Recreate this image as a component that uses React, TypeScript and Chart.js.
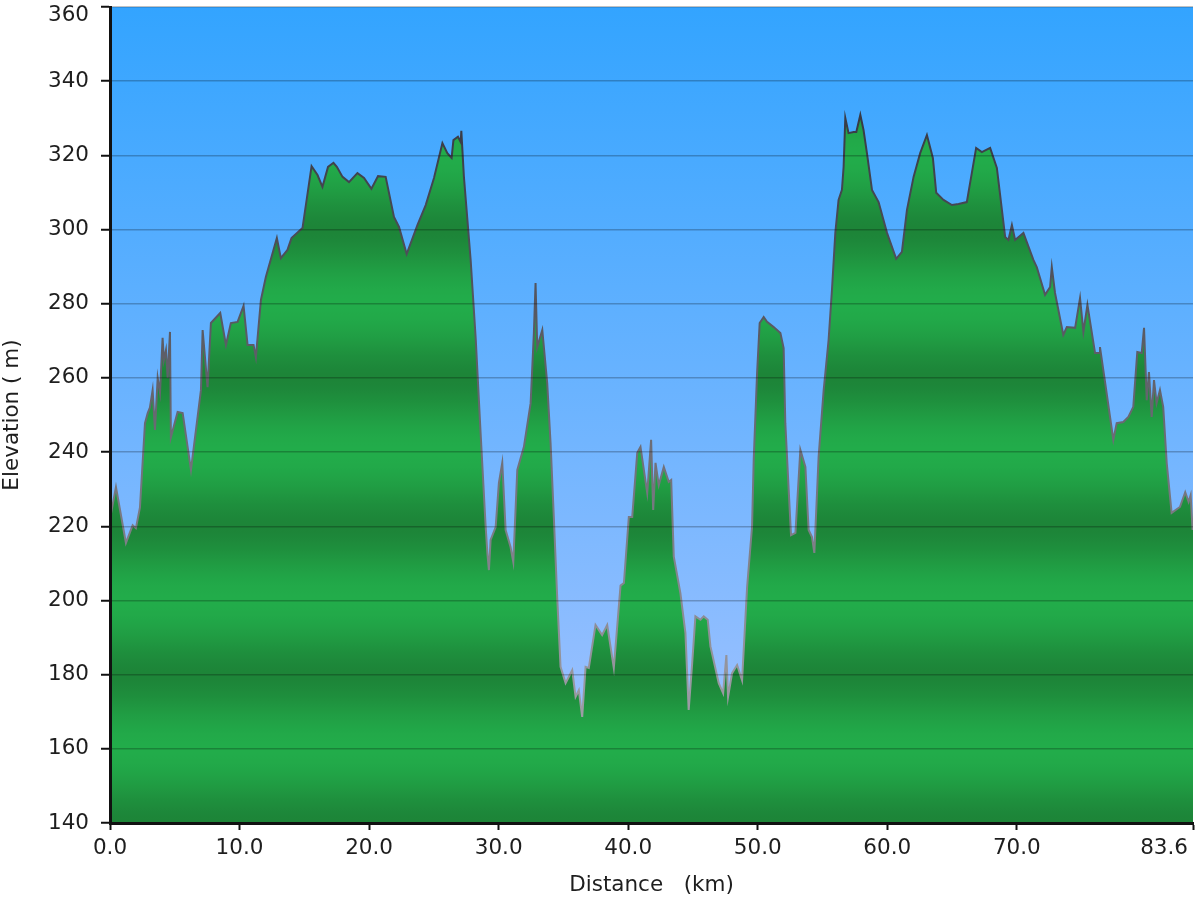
import React, { useEffect, useRef } from "react";
import { Chart, registerables } from "chart.js";

Chart.register(...registerables);

// Distance along the route (km)
const distanceKm = [
  0, 0.46, 1.23, 1.75, 2.0, 2.31, 2.7, 2.91, 3.08, 3.29,
  3.47, 3.68, 3.86, 4.06, 4.16, 4.32, 4.45, 4.63, 4.7, 5.22,
  5.61, 6.25, 7.02, 7.15, 7.53, 7.79, 8.51, 8.95, 9.33, 9.85,
  10.31, 10.62, 11.08, 11.26, 11.65, 12.03, 12.88, 13.19, 13.7, 14.01,
  14.86, 15.56, 16.02, 16.4, 16.83, 17.25, 17.51, 17.95, 18.45, 19.1,
  19.61, 20.18, 20.69, 21.28, 21.92, 22.31, 22.9, 23.73, 24.37, 25.01,
  25.66, 26.04, 26.37, 26.51, 26.86, 27.07, 27.12, 27.32, 27.84, 28.23,
  28.61, 29.0, 29.13, 29.25, 29.38, 29.77, 30.02, 30.28, 30.54, 30.92,
  31.13, 31.44, 31.95, 32.47, 32.72, 32.85, 32.98, 33.37, 33.75, 34.01,
  34.26, 34.53, 34.78, 35.17, 35.68, 35.94, 36.19, 36.45, 36.71, 36.96,
  37.48, 37.99, 38.38, 38.89, 39.41, 39.67, 40.05, 40.31, 40.7, 40.95,
  41.47, 41.77, 41.93, 42.11, 42.36, 42.75, 43.13, 43.32, 43.52, 44.03,
  44.42, 44.67, 44.94, 45.19, 45.58, 45.83, 46.14, 46.35, 46.99, 47.33,
  47.58, 47.71, 48.02, 48.41, 48.79, 49.18, 49.56, 49.69, 49.95, 50.15,
  50.46, 50.72, 51.23, 51.75, 52.0, 52.13, 52.39, 52.57, 52.91, 53.29,
  53.68, 53.93, 54.19, 54.37, 54.7, 55.09, 55.47, 55.73, 55.99, 56.24,
  56.5, 56.63, 56.76, 57.01, 57.4, 57.61, 57.92, 58.17, 58.43, 58.82,
  59.33, 59.98, 60.69, 61.13, 61.52, 62.03, 62.54, 63.06, 63.52, 63.78,
  64.34, 64.99, 65.5, 66.14, 66.86, 67.3, 67.94, 68.46, 69.1, 69.35,
  69.62, 69.87, 70.51, 71.28, 71.54, 72.18, 72.57, 72.7, 72.95, 73.59,
  73.86, 74.5, 74.88, 75.14, 75.45, 76.04, 76.37, 76.42, 76.81, 77.45,
  77.71, 78.22, 78.61, 78.99, 79.3, 79.64, 79.82, 80.03, 80.2, 80.41,
  80.59, 80.79, 81.05, 81.3, 81.57, 81.95, 82.59, 83.0, 83.26, 83.42,
  83.57, 83.6,
];

// Elevation (m)
const elevationM = [
  222, 230.6, 215.5, 220.3, 219.5, 225, 247.8, 250.5, 252, 256.7,
  246, 260, 256, 270.8, 264.8, 267.5, 260, 272.4, 244, 250.8,
  250.5, 235.2, 256.7, 272.9, 257.5, 274.8, 277.5, 268.9, 274.8, 275.1,
  279.4, 268.9, 268.9, 265.6, 281, 287.2, 297.7, 292.3, 294.5, 297.7,
  300.4, 317.1, 314.7, 311.5, 316.9, 318, 316.9, 314.2, 312.8, 315.2,
  313.9, 311, 314.4, 314.2, 303.4, 300.7, 293.4, 301.2, 306.6, 313.9,
  323.3, 320.6, 319.3, 324.1, 325, 323.6, 326.6, 314.2, 291.8, 270.6,
  245, 219.8, 212.8, 208.2, 216.3, 219.8, 231.7, 237.1, 219, 214.4,
  210.4, 235.2, 241.4, 253.2, 272.1, 285.6, 268.3, 272.9, 258.6, 242.4,
  222.5, 200.1, 182.1, 177.7, 181.2, 174, 175.8, 168.6, 182.1, 181.8,
  193.4, 190.7, 193.4, 181.8, 204, 204.7, 222.5, 222.5, 239.8, 241.4,
  229, 243.3, 224.4, 237.1, 231.1, 236, 232, 232.5, 211.8, 202,
  191.2, 170.5, 183.1, 195.7, 194.8, 195.7, 194.8, 187.6, 177.7, 175,
  185.3, 174, 180.4, 182.6, 178.5, 203.6, 219.8, 237.9, 261.3, 274.8,
  276.4, 275.1, 273.7, 272.1, 268, 247.8, 229.8, 217.6, 218.2, 240.6,
  236, 219, 217.1, 212.8, 238.7, 256.7, 270.2, 283.7, 299.1, 308,
  310.7, 316.9, 330.1, 326, 326.3, 326.3, 330.9, 326.8, 320.6, 310.7,
  307.4, 299.1, 292.1, 294, 305.3, 314.2, 320.6, 325.5, 319.3, 309.9,
  308, 306.6, 306.9, 307.4, 322, 320.9, 322, 316.6, 298, 297.2,
  301.2, 297.2, 299.1, 291.8, 289.9, 282.4, 284.5, 289.9, 282.9, 271.6,
  273.7, 273.5, 281.5, 272.4, 279.7, 266.7, 266.7, 268.3, 258.9, 243.3,
  247.8, 248.1, 249.5, 252.2, 267, 266.7, 273.5, 254, 261.6, 249.5,
  259.4, 253.2, 256.7, 252.2, 237.1, 223.6, 225.2, 229.2, 226.6, 228.4,
  219, 221,
];

const xTickValues = [0, 10, 20, 30, 40, 50, 60, 70, 83.6];
const yMin = 140;
const yMax = 360;
const yStep = 20;

const FONT = "'DejaVu Sans', Verdana, sans-serif";

const LIGHT = [34, 172, 74];
const DARK = [29, 132, 56];

function fillGradient(chart: any) {
  const { ctx, chartArea, scales } = chart;
  if (!chartArea || !scales.y) return "rgb(34,172,74)";
  const ys = scales.y;
  const span = chartArea.bottom - chartArea.top;
  const g = ctx.createLinearGradient(0, chartArea.top, 0, chartArea.bottom);
  for (let v = yMax; v >= yMin; v -= 1) {
    const phase = ((((v - yMin) % 40) + 40) % 40) / 40;
    let t = (1 - Math.cos(2 * Math.PI * phase)) / 2;
    t = Math.pow(t, 0.8);
    const c = DARK.map((d, i) => Math.round(d + (LIGHT[i] - d) * t));
    const stop = (ys.getPixelForValue(v) - chartArea.top) / span;
    g.addColorStop(Math.min(1, Math.max(0, stop)), `rgb(${c[0]},${c[1]},${c[2]})`);
  }
  return g;
}

function lineGradient(chart: any) {
  const { ctx, chartArea } = chart;
  if (!chartArea) return "#555";
  const g = ctx.createLinearGradient(0, chartArea.top, 0, chartArea.bottom);
  g.addColorStop(0, "#262a36");
  g.addColorStop(0.45, "#60616a");
  g.addColorStop(1, "#b0b0b8");
  return g;
}

export default function App() {
  const ref = useRef<HTMLCanvasElement>(null);

  useEffect(() => {
    document.body.style.margin = "0";
    const canvas = ref.current;
    if (!canvas) return;

    const bgPlugin = {
      id: "skyBg",
      beforeDraw(chart: any) {
        const { ctx, chartArea: a } = chart;
        if (!a) return;
        const g = ctx.createLinearGradient(0, a.top, 0, a.bottom);
        g.addColorStop(0, "#33a4ff");
        g.addColorStop(1, "#a8c4ff");
        ctx.save();
        ctx.fillStyle = g;
        ctx.fillRect(a.left, a.top, a.right - a.left, a.bottom - a.top);
        ctx.restore();
      },
    };

    const labelsPlugin = {
      id: "tickLabels",
      afterDraw(chart: any) {
        const { ctx } = chart;
        const xs = chart.scales.x;
        const ys = chart.scales.y;
        ctx.save();
        ctx.font = `21.5px ${FONT}`;
        ctx.fillStyle = "#1e1e1e";
        ctx.textAlign = "right";
        ctx.textBaseline = "middle";
        ys.ticks.forEach((t: any) => {
          const y = Math.max(ys.getPixelForValue(t.value), 15);
          ctx.fillText(String(t.value), 89, y);
        });
        ctx.textAlign = "center";
        xs.ticks.forEach((t: any) => {
          const label = Number(t.value).toFixed(1);
          const w = ctx.measureText(label).width;
          let x = xs.getPixelForValue(t.value);
          x = Math.min(x, chart.width - 12 - w / 2);
          ctx.fillText(label, x, 848);
        });
        ctx.restore();
      },
    };

    const chart = new Chart(canvas, {
      type: "line",
      data: {
        datasets: [
          {
            data: distanceKm.map((x, i) => ({ x, y: elevationM[i] })),
            borderColor: (c: any) => lineGradient(c.chart),
            backgroundColor: (c: any) => fillGradient(c.chart),
            fill: "start",
            pointRadius: 0,
            borderWidth: 2,
            tension: 0,
          },
        ],
      },
      options: {
        animation: false,
        responsive: false,
        layout: { padding: { top: 7, right: 7, left: 0, bottom: 0 } },
        plugins: {
          legend: { display: false },
          tooltip: { enabled: false },
        },
        scales: {
          x: {
            type: "linear",
            min: 0,
            max: 83.6,
            afterBuildTicks: (s: any) => {
              s.ticks = xTickValues.map((v) => ({ value: v }));
            },
            afterFit: (s: any) => {
              s.height = 77;
            },
            ticks: { display: false },
            grid: {
              drawOnChartArea: false,
              drawTicks: true,
              tickLength: 7,
              tickColor: "#111",
              tickWidth: 2,
              z: 1,
            },
            border: { display: true, color: "#111", width: 3, z: 2 },
            title: {
              display: true,
              text: "Distance   (km)",
              color: "#1e1e1e",
              font: { family: FONT, size: 21.5 },
              padding: { top: 0, bottom: 2 },
            },
          },
          y: {
            type: "linear",
            min: yMin,
            max: yMax,
            afterFit: (s: any) => {
              s.width = 110;
            },
            ticks: { display: false, stepSize: yStep },
            grid: {
              color: "rgba(0,0,0,0.24)",
              lineWidth: 1.5,
              tickColor: "#111",
              tickWidth: 2,
              tickLength: 9,
              z: 1,
            },
            border: { display: true, color: "#111", width: 3, z: 2 },
            title: {
              display: true,
              text: "Elevation ( m)",
              color: "#1e1e1e",
              font: { family: FONT, size: 21.5 },
              padding: { top: 0, bottom: 0 },
            },
          },
        },
      },
      plugins: [bgPlugin, labelsPlugin],
    } as any);

    return () => chart.destroy();
  }, []);

  return (
    <canvas
      ref={ref}
      width={1200}
      height={900}
      style={{ display: "block", width: 1200, height: 900 }}
    />
  );
}
